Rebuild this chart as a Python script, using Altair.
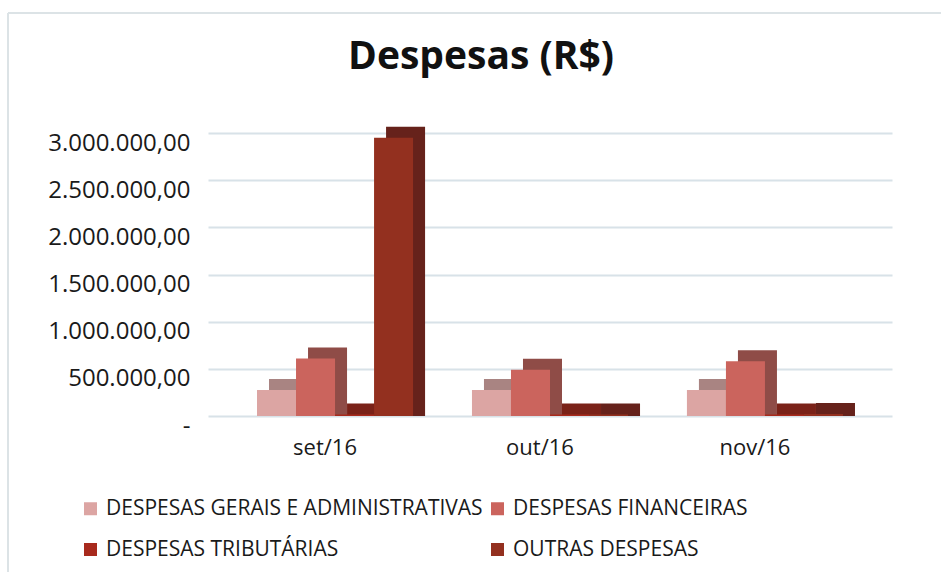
import altair as alt
import pandas as pd

months = ["set/16", "out/16", "nov/16"]
series = [
    "DESPESAS GERAIS E ADMINISTRATIVAS",
    "DESPESAS FINANCEIRAS",
    "DESPESAS TRIBUTÁRIAS",
    "OUTRAS DESPESAS",
]
gerais = [275000, 275000, 275000]
financeiras = [610000, 490000, 580000]
tributarias = [15000, 15000, 15000]
outras = [2950000, 15000, 20000]
y_ticks = [0, 500000, 1000000, 1500000, 2000000, 2500000, 3000000]

front_colors = ["#DCA5A3", "#CB645D", "#A82A1D", "#93301F"]
side_colors = ["#A98482", "#8F4C47", "#7A2218", "#66221B"]

rows = []
for s, vals in zip(series, [gerais, financeiras, tributarias, outras]):
    for m, v in zip(months, vals):
        rows.append({"mes": m, "serie": s, "valor": v})
df = pd.DataFrame(rows)

FONT = "Open Sans"
NB = "\u00a0"
W, H = 684, 283
YMAX = 3000000
BAND = W / (3 - 0.274 + 2 * 0.228) * (1 - 0.274)
DEPTH_X = 12
DEPTH_Y = 11
SHIFT = DEPTH_Y / H * YMAX  # depth of the 3D look, in value units

x_enc = alt.X(
    "mes:N",
    sort=months,
    scale=alt.Scale(paddingInner=0.274, paddingOuter=0.228),
    axis=alt.Axis(
        title=None, domain=False, ticks=False, grid=False, labelAngle=0,
        labelFontSize=22, labelColor="#1a1a1a", labelPadding=21,
        labelOffset=-10, labelFont=FONT,
    ),
)
y_enc = alt.Y(
    "valor:Q",
    scale=alt.Scale(domain=[0, YMAX], nice=False),
    axis=alt.Axis(
        title=None, domain=False, ticks=False, values=y_ticks, grid=True,
        labelExpr=f"datum.value == 0 ? '-{NB}{NB}' : join(split(format(datum.value, ',.0f'), ','), '.') + ',00'",
        labelFontSize=24, labelColor="#1a1a1a", labelPadding=18, labelOffset=10,
        labelFont=FONT,
        gridColor="#D8E2E8", gridWidth=2,
    ),
)

back = alt.Chart(df).mark_bar().encode(
    x=x_enc,
    xOffset=alt.XOffset("serie:N", sort=series,
                        scale=alt.Scale(range=[DEPTH_X, BAND + DEPTH_X], paddingInner=0, paddingOuter=0)),
    y=alt.Y("valor:Q", scale=alt.Scale(domain=[-SHIFT, YMAX - SHIFT], nice=False, zero=False), axis=None),
    y2=alt.datum(-SHIFT),
    color=alt.Color("serie:N", sort=series, scale=alt.Scale(domain=series, range=side_colors), legend=None),
)

front = alt.Chart(df).mark_bar().encode(
    x=x_enc,
    xOffset=alt.XOffset("serie:N", sort=series,
                        scale=alt.Scale(range=[0, BAND], paddingInner=0, paddingOuter=0)),
    y=y_enc,
    color=alt.Color(
        "serie:N", sort=series,
        scale=alt.Scale(domain=series, range=front_colors),
        legend=alt.Legend(
            title=None, orient="none", legendX=-128, legendY=365,
            columns=2, direction="horizontal",
            symbolType="square", symbolSize=169, symbolStrokeWidth=0,
            labelFontSize=21, labelFont=FONT, labelColor="#1a1a1a", labelLimit=0,
            columnPadding=4, rowPadding=19, labelOffset=5,
        ),
    ),
)

one = pd.DataFrame({"a": [0]})
border_left = alt.Chart(one).mark_rule(color="#DCE3E6", strokeWidth=2).encode(
    x=alt.value(-200), y=alt.value(-120), y2=alt.value(440)
)
border_top = alt.Chart(one).mark_rule(color="#DCE3E6", strokeWidth=2).encode(
    x=alt.value(-200), x2=alt.value(733), y=alt.value(-120)
)

chart = (
    alt.layer(border_left, border_top, back, front)
    .resolve_scale(color="independent", xOffset="independent", y="independent")
    .properties(
        width=W,
        height=H,
        autosize=alt.AutoSizeParams(type="none"),
        padding={"left": 208, "top": 133, "right": 49, "bottom": 156},
        background="white",
        title=alt.TitleParams(
            "Despesas (R$)", font=FONT, fontSize=39, fontWeight="bold",
            color="#111111", anchor="middle", dx=-69, offset=-65,
        ),
    )
    .configure_view(stroke=None)
)

chart.save("out.html", embed_options={"renderer": "svg", "actions": False})
